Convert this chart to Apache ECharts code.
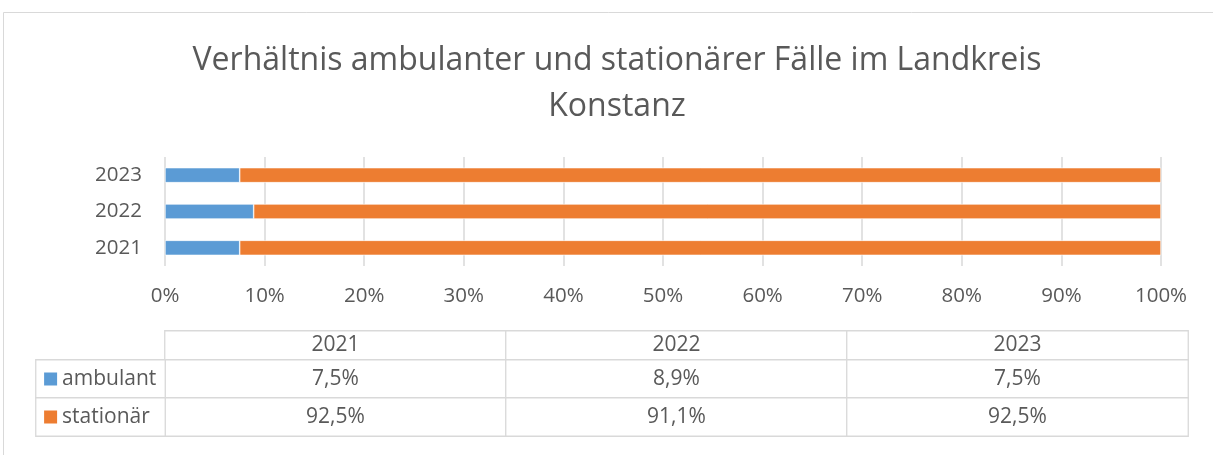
<!DOCTYPE html>
<html>
<head>
<meta charset="utf-8">
<script src="https://cdn.jsdelivr.net/npm/echarts@6/dist/echarts.min.js"></script>
<style>
html,body{margin:0;padding:0;background:#fff;}
#chart{width:1213px;height:455px;}
</style>
</head>
<body>
<div id="chart"></div>
<script>
const titleText = 'Verhältnis ambulanter und stationärer Fälle im Landkreis\nKonstanz';
const years = ['2021', '2022', '2023'];
const seriesNames = ['ambulant', 'stationär'];
const ambulant = [7.5, 8.9, 7.5];
const stationaer = [92.5, 91.1, 92.5];
const colors = ['#5B9BD5', '#ED7D31'];

const FONT = 'Open Sans';
const TXT = '#595959';
const LINE = '#D9D9D9';

const fmtPct = v => v.toFixed(1).replace('.', ',') + '%';

// body rows: index 0 bottom -> stationär, index 1 top -> ambulant
const rowNames = [seriesNames[1], seriesNames[0]];
const bodyData = [];
years.forEach((y, i) => {
  bodyData.push([i, 1, ambulant[i]]);
  bodyData.push([i, 0, stationaer[i]]);
});
const headerData = years.map((y, i) => [i, 0, +y]);
const legendData = [[0, 1, 0], [0, 0, 1]];

const cellStyle = { color: '#fff', borderColor: LINE, borderWidth: 1.3 };
const hiddenCat = (data, gi) => ({ type: 'category', data: data, gridIndex: gi, show: false });

const chart = echarts.init(document.getElementById('chart'), null, { renderer: 'canvas' });
chart.setOption({
  animation: false,
  backgroundColor: '#fff',
  title: {
    text: titleText,
    left: 612,
    textAlign: 'center',
    top: 33,
    textStyle: { fontFamily: FONT, fontWeight: 'normal', fontSize: 32, color: TXT, lineHeight: 46 }
  },
  graphic: [{
    type: 'rect', silent: true, z: -1,
    shape: { x: 3.5, y: 12.5, width: 1220, height: 460 },
    style: { fill: 'none', stroke: LINE, lineWidth: 1 }
  }],
  grid: [
    { left: 165, right: 52, top: 157, height: 109 },
    { left: 165, right: 25, top: 331, height: 29 },
    { left: 165, right: 25, top: 360, height: 76 },
    { left: 36, width: 129, top: 360, height: 76 }
  ],
  xAxis: [
    {
      type: 'value', gridIndex: 0, min: 0, max: 100, interval: 10,
      axisLine: { show: false }, axisTick: { show: false },
      splitLine: { show: true, lineStyle: { color: LINE, width: 1.5 } },
      axisLabel: { formatter: '{value}%', fontFamily: FONT, fontSize: 20.5, color: TXT, margin: 20 }
    },
    hiddenCat(years, 1),
    hiddenCat(years, 2),
    hiddenCat(['l'], 3)
  ],
  yAxis: [
    {
      type: 'category', gridIndex: 0, data: years,
      axisLine: { show: false }, axisTick: { show: false },
      axisLabel: { fontFamily: FONT, fontSize: 20.5, color: TXT, margin: 23 }
    },
    hiddenCat(['h'], 1),
    hiddenCat(rowNames, 2),
    hiddenCat(rowNames, 3)
  ],
  series: [
    {
      name: seriesNames[0], type: 'bar', stack: 'total', xAxisIndex: 0, yAxisIndex: 0,
      data: ambulant, barWidth: 15, itemStyle: { color: colors[0], borderColor: '#fff', borderWidth: 0.6 }
    },
    {
      name: seriesNames[1], type: 'bar', stack: 'total', xAxisIndex: 0, yAxisIndex: 0,
      data: stationaer, barWidth: 15, itemStyle: { color: colors[1], borderColor: '#fff', borderWidth: 0.6 }
    },
    {
      type: 'heatmap', xAxisIndex: 1, yAxisIndex: 1, data: headerData,
      itemStyle: cellStyle, emphasis: { disabled: true },
      label: { show: true, formatter: p => years[p.value[0]], fontFamily: FONT, fontSize: 21, color: TXT }
    },
    {
      type: 'heatmap', xAxisIndex: 2, yAxisIndex: 2, data: bodyData,
      itemStyle: cellStyle, emphasis: { disabled: true },
      label: { show: true, formatter: p => fmtPct(p.value[2]), fontFamily: FONT, fontSize: 21, color: TXT }
    },
    {
      type: 'heatmap', xAxisIndex: 3, yAxisIndex: 3, data: legendData,
      itemStyle: cellStyle, emphasis: { disabled: true },
      label: {
        show: true, position: 'insideLeft', distance: 9,
        formatter: p => '{s' + p.value[2] + '|}{t|' + seriesNames[p.value[2]] + '}',
        rich: {
          s0: { width: 13, height: 13, backgroundColor: colors[0] },
          s1: { width: 13, height: 13, backgroundColor: colors[1] },
          t: { fontFamily: FONT, fontSize: 21, color: TXT, padding: [0, 0, 0, 5] }
        }
      }
    }
  ]
});
</script>
</body>
</html>
